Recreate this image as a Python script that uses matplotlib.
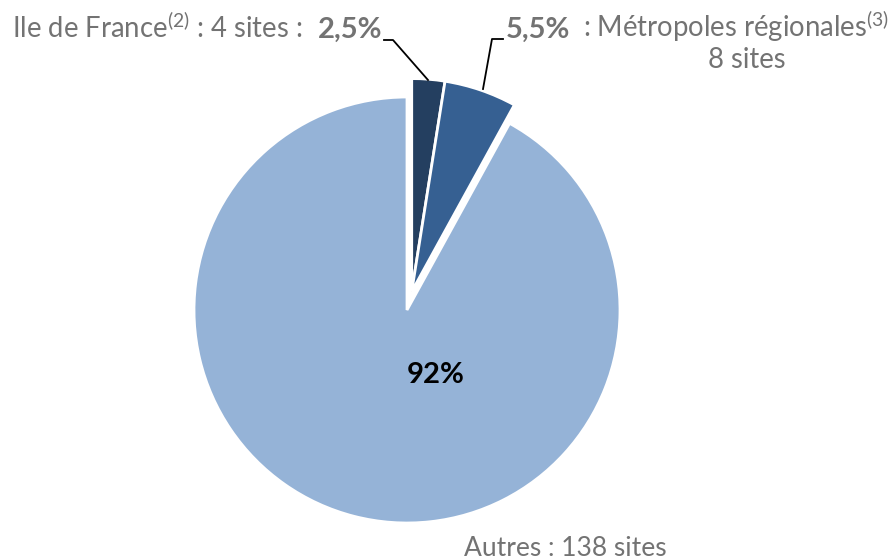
import matplotlib
matplotlib.use("Agg")
import matplotlib.pyplot as plt
import numpy as np

# données
categories = ["Ile de France", "Métropoles régionales", "Autres"]
parts = [2.5, 5.5, 92]
sites = [4, 8, 138]
pct_labels = ["2,5%", "5,5%", "92%"]
colors = ["#243F60", "#366092", "#95B3D7"]

plt.rcParams["font.family"] = ["Lato", "DejaVu Sans"]
plt.rcParams["mathtext.fontset"] = "custom"
plt.rcParams["mathtext.rm"] = "Lato"
plt.rcParams["mathtext.it"] = "Lato"
plt.rcParams["mathtext.bf"] = "Lato:bold"

W, H = 891, 560
fig = plt.figure(figsize=(W / 100, H / 100), dpi=100)
ax = fig.add_axes([0, 0, 1, 1])

def py(y):
    # coordonnées pixel (y vers le bas) -> axe
    return H - y

cx, cy, r = 407, py(310), 213
wedges, _ = ax.pie(parts, colors=colors, startangle=90, counterclock=False,
                   center=(cx, cy), radius=r,
                   wedgeprops=dict(edgecolor="white", linewidth=2))

# les deux petites parts sont détachées ensemble
mid = np.deg2rad(90 - 3.6 * (parts[0] + parts[1]) / 2)
off = 19
for w in wedges[:2]:
    w.set_center((cx + off * np.cos(mid), cy + off * np.sin(mid)))

ax.set_xlim(0, W)
ax.set_ylim(0, H)
ax.set_aspect("equal")
ax.axis("off")

gray = "#737373"
fs_top = 19.8
fs_bold = 21

ax.text(302, py(38), f"{categories[0]}$^{{(2)}}$ : {sites[0]} sites :",
        ha="right", va="baseline", fontsize=fs_top, color=gray)
ax.text(318, py(38), pct_labels[0], ha="left", va="baseline",
        fontsize=fs_bold, color=gray, fontweight="bold")
ax.text(506, py(38), pct_labels[1], ha="left", va="baseline",
        fontsize=fs_bold, color=gray, fontweight="bold")
ax.text(583, py(37), f": {categories[1]}$^{{(3)}}$", ha="left", va="baseline",
        fontsize=fs_top, color=gray)
ax.text(747, py(68), f"{sites[1]} sites", ha="center", va="baseline",
        fontsize=fs_top, color=gray)
ax.text(565, py(556), f"{categories[2]} : {sites[2]} sites", ha="center",
        va="baseline", fontsize=19, color=gray)
ax.text(436, py(375), pct_labels[2], ha="center", va="center",
        fontsize=fs_bold, color="black", fontweight="bold")

# traits de rappel
ax.plot([384, 393, 428], [py(40), py(40), py(80)], color="black", lw=1.3)
ax.plot([503, 492, 483], [py(39), py(39), py(89)], color="black", lw=1.3)

fig.savefig("out.png", dpi=100)
